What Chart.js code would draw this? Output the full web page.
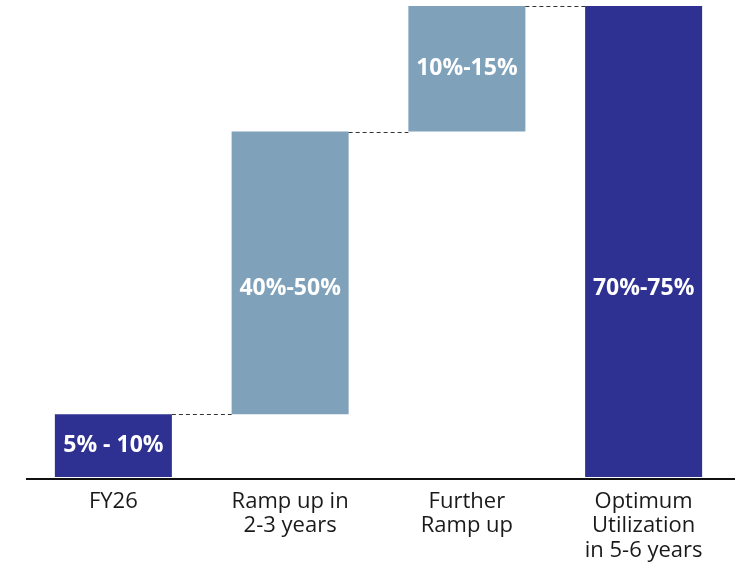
<!DOCTYPE html>
<html>
<head>
<meta charset="utf-8">
<script src="https://cdn.jsdelivr.net/npm/chart.js@4/dist/chart.umd.min.js"></script>
<style>
  html, body { margin: 0; padding: 0; background: #ffffff; }
  #wrap { width: 735px; height: 564px; }
</style>
</head>
<body>
<div id="wrap"><canvas id="chart" width="735" height="564"></canvas></div>
<script>
// Utilization build-up, drawn as a waterfall of floating bars
const categories = [
  ["FY26"],
  ["Ramp up in", "2-3 years"],
  ["Further", "Ramp up"],
  ["Optimum", "Utilization", "in 5-6 years"]
];
const barStart = [0, 10, 55, 0];
const barEnd = [10, 55, 75, 75];
const rangeLabels = ["5% - 10%", "40%-50%", "10%-15%", "70%-75%"];

const DARK = "#2E3192";
const LIGHT = "#7FA1BA";
const barColors = [DARK, LIGHT, LIGHT, DARK];

// dashed step connectors, the baseline and the in-bar range labels
const waterfallDecor = {
  id: "waterfallDecor",
  afterDatasetsDraw(chart) {
    const ctx = chart.ctx;
    const meta = chart.getDatasetMeta(0);
    const y = chart.scales.y;
    const area = chart.chartArea;

    ctx.save();
    ctx.strokeStyle = "#333333";
    ctx.lineWidth = 1;
    ctx.setLineDash([4, 3]);
    for (let i = 0; i < meta.data.length - 1; i++) {
      const a = meta.data[i].getProps(["x", "width"], true);
      const b = meta.data[i + 1].getProps(["x", "width"], true);
      const level = Math.round(y.getPixelForValue(barEnd[i])) + 0.5;
      ctx.beginPath();
      ctx.moveTo(a.x + a.width / 2, level);
      ctx.lineTo(b.x - b.width / 2, level);
      ctx.stroke();
    }
    ctx.setLineDash([]);

    // baseline
    const base = Math.round(y.getPixelForValue(0));
    ctx.strokeStyle = "#111111";
    ctx.lineWidth = 2;
    ctx.beginPath();
    ctx.moveTo(area.left + 1, base + 2);
    ctx.lineTo(chart.width, base + 2);
    ctx.stroke();

    // range labels: centred in the bar, tall bars keep theirs at the labelLevel line
    ctx.fillStyle = "#ffffff";
    ctx.font = "bold 23px 'Open Sans', 'Noto Sans', sans-serif";
    ctx.textAlign = "center";
    ctx.textBaseline = "middle";
    const labelLevel = 30;
    meta.data.forEach((bar, i) => {
      let at = (barStart[i] + barEnd[i]) / 2;
      if (barStart[i] < labelLevel && barEnd[i] > labelLevel && at > labelLevel) at = labelLevel;
      ctx.fillText(rangeLabels[i], bar.x, y.getPixelForValue(at));
    });
    ctx.restore();
  }
};

new Chart(document.getElementById("chart"), {
  type: "bar",
  data: {
    labels: categories,
    datasets: [{
      data: barStart.map((s, i) => [s, barEnd[i]]),
      backgroundColor: barColors,
      borderWidth: 0,
      barPercentage: 0.662,
      categoryPercentage: 1
    }]
  },
  options: {
    responsive: false,
    animation: false,
    devicePixelRatio: 1,
    layout: { padding: { left: 25, right: 3, top: 6, bottom: 0 } },
    plugins: {
      legend: { display: false },
      tooltip: { enabled: false }
    },
    scales: {
      x: {
        afterFit(scale) { scale.height = 87; },
        grid: { display: false, drawTicks: false, tickLength: 0 },
        border: { display: false },
        ticks: {
          color: "#1a1a1a",
          font: { family: "'Open Sans', 'Noto Sans', sans-serif", size: 22, lineHeight: "24.5px" },
          padding: 12,
          maxRotation: 0,
          autoSkip: false
        }
      },
      y: {
        display: false,
        min: 0,
        max: 75
      }
    }
  },
  plugins: [waterfallDecor]
});
</script>
</body>
</html>
